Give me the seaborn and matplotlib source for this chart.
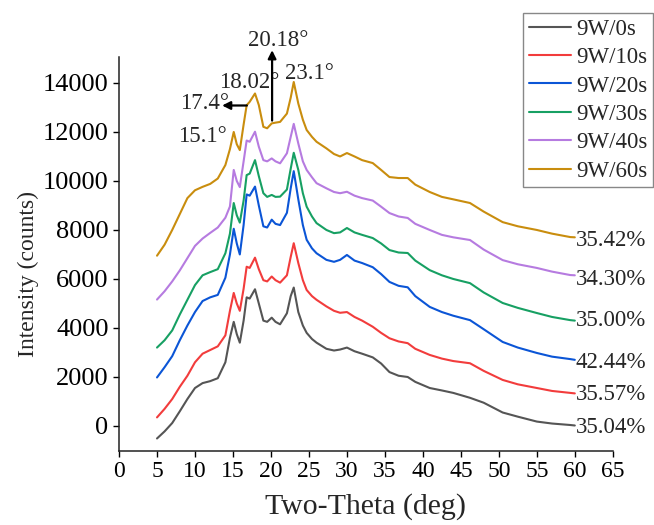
import pandas as pd
import matplotlib.pyplot as plt
import seaborn as sns

sns.set_style("ticks")
plt.rcParams["font.family"] = ["Liberation Serif", "DejaVu Serif"]

# XRD patterns (two-theta in deg, intensity in counts)
two_theta = [5, 6, 7, 8, 9, 10, 11, 12, 13, 14, 14.6, 15.1, 15.5, 15.9, 16.4, 16.8,
             17.2, 17.9, 18.4, 19.0, 19.5, 20.1, 20.6, 21.2, 22.1, 22.6, 23.0, 23.6,
             24.2, 24.7, 25.4, 26.0, 27.3, 28.3, 29.1, 30.0, 31.0, 32.0, 33.4, 34.5,
             35.6, 36.8, 38.0, 39.0, 40.9, 42.5, 44.0, 46.2, 48.0, 50.5, 52.5, 55.0,
             57.0, 59.4, 60.0]

w9_0s = [-510, -220, 120, 600, 1100, 1550, 1750, 1830, 1950, 2600, 3600, 4250, 3750, 3400,
         4300, 5250, 5200, 5580, 5000, 4300, 4250, 4420, 4250, 4150, 4600, 5300, 5650, 4650,
         4100, 3800, 3550, 3400, 3150, 3080, 3120, 3200, 3050, 2950, 2800, 2550, 2200, 2050,
         2000, 1800, 1550, 1450, 1350, 1150, 950, 550, 380, 180, 100, 40, 20]
w9_10s = [350, 700, 1100, 1600, 2050, 2600, 2950, 3100, 3250, 3700, 4700, 5430, 5000, 4700,
          5600, 6500, 6450, 6870, 6400, 5950, 5900, 6100, 5950, 5850, 6150, 6900, 7460, 6650,
          5950, 5550, 5300, 5150, 4880, 4700, 4620, 4650, 4450, 4300, 4050, 3800, 3580, 3450,
          3380, 3150, 2900, 2750, 2650, 2560, 2250, 1880, 1700, 1550, 1430, 1350, 1330]
w9_20s = [1980, 2400, 2850, 3500, 4100, 4650, 5100, 5250, 5350, 6050, 7000, 8050, 7450, 7000,
          8200, 9450, 9400, 9770, 9000, 8150, 8100, 8420, 8250, 8200, 8700, 9700, 10400, 9250,
          8200, 7600, 7250, 7050, 6780, 6700, 6780, 6980, 6750, 6650, 6480, 6200, 5880, 5720,
          5660, 5300, 4860, 4650, 4500, 4320, 3950, 3430, 3200, 2980, 2830, 2730, 2700]
w9_30s = [3200, 3500, 3900, 4550, 5150, 5750, 6150, 6280, 6400, 7050, 7850, 9100, 8600, 8300,
          9200, 10240, 10300, 10850, 10200, 9500, 9350, 9430, 9350, 9360, 9650, 10500, 11150,
          10450, 9500, 8950, 8550, 8280, 8000, 7870, 7900, 8080, 7900, 7800, 7670, 7450, 7180,
          7080, 7060, 6750, 6360, 6150, 6000, 5830, 5450, 5020, 4820, 4610, 4450, 4320, 4300]
w9_40s = [5160, 5500, 5900, 6350, 6850, 7350, 7650, 7880, 8100, 8500, 8960, 10450, 10000, 9750,
          10800, 11650, 11600, 12010, 11400, 10850, 10800, 10920, 10800, 10720, 11130, 11800,
          12330, 11530, 10800, 10450, 10150, 9910, 9700, 9550, 9500, 9560, 9400, 9300, 9200,
          8950, 8690, 8550, 8490, 8250, 8000, 7800, 7700, 7590, 7200, 6770, 6600, 6450, 6300,
          6160, 6150]
w9_60s = [6950, 7400, 8000, 8650, 9300, 9620, 9760, 9880, 10100, 10650, 11300, 12000, 11500,
          11260, 12300, 13090, 13230, 13570, 13100, 12210, 12150, 12350, 12380, 12410, 12750,
          13400, 14040, 13160, 12500, 12080, 11800, 11600, 11330, 11100, 11000, 11140, 11000,
          10850, 10730, 10450, 10160, 10120, 10120, 9850, 9550, 9350, 9250, 9100, 8750, 8320,
          8150, 8000, 7850, 7710, 7700]

samples = ["9W/0s", "9W/10s", "9W/20s", "9W/30s", "9W/40s", "9W/60s"]
series = [w9_0s, w9_10s, w9_20s, w9_30s, w9_40s, w9_60s]
colors = ["#555555", "#f23c3c", "#0b55d6", "#17a063", "#b67be0", "#c98d0e"]

crystallinity = ["35.04%", "35.57%", "42.44%", "35.00%", "34.30%", "35.42%"]
label_y = [-80, 1270, 2600, 4320, 5980, 7590]

rows = []
for name, vals in zip(samples, series):
    for t, v in zip(two_theta, vals):
        rows.append({"two_theta": t, "intensity": v, "sample": name})
df = pd.DataFrame(rows)

fig = plt.figure(figsize=(6.54, 5.25), dpi=100)
ax = fig.add_axes([0.182, 0.141, 0.755, 0.750])

sns.lineplot(data=df, x="two_theta", y="intensity", hue="sample", hue_order=samples,
             palette=colors, estimator=None, sort=False, linewidth=1.5, ax=ax)

ax.set_xlim(0, 65)
ax.set_ylim(-1020, 15050)
ax.set_xticks(range(0, 66, 5))
ax.set_yticks(range(0, 14001, 2000))
ax.tick_params(direction="out", length=4, width=1, labelsize=17, colors="black")
ax.tick_params(axis="y", labelsize=19)
for side in ["top", "right"]:
    ax.spines[side].set_visible(False)
for side in ["left", "bottom"]:
    ax.spines[side].set_linewidth(1.1)
    ax.spines[side].set_color("#222222")

ax.set_xlabel("Two-Theta (deg)", fontsize=21.5, labelpad=8)
ax.set_ylabel("Intensity (counts)", fontsize=17, labelpad=3)
ax.yaxis.label.set_y(0.45)

for txt, yv in zip(crystallinity, label_y):
    ax.text(60.1, yv, txt, fontsize=16.5, ha="left", va="center", clip_on=False)

# peak annotations
fs = 16.5
ax.text(11.0, 11800, "15.1°", fontsize=fs, ha="center", va="center")
ax.text(11.2, 13170, "17.4°", fontsize=fs, ha="center", va="center")
ax.annotate("", xy=(13.2, 13080), xytext=(17.2, 13080),
            arrowprops=dict(arrowstyle="-|>", color="black", lw=1.6, mutation_scale=12))
ax.text(17.1, 14020, "18.02°", fontsize=fs, ha="center", va="center")
ax.annotate("", xy=(20.15, 15450), xytext=(20.15, 12350), annotation_clip=False,
            arrowprops=dict(arrowstyle="-|>", color="black", lw=1.6, mutation_scale=12))
ax.text(21.0, 15730, "20.18°", fontsize=fs, ha="center", va="center", clip_on=False)
ax.text(25.1, 14380, "23.1°", fontsize=fs, ha="center", va="center")

leg = ax.legend(loc="upper right", bbox_to_anchor=(653 / 654, 1 - 13 / 525),
                bbox_transform=fig.transFigure, borderaxespad=0, fontsize=16.5,
                frameon=True, fancybox=False, edgecolor="#888888", framealpha=1,
                handlelength=1.85, handletextpad=0.2, labelspacing=0.32, borderpad=0.25)
for line in leg.get_lines():
    line.set_linewidth(1.5)

fig.savefig("out.png", dpi=100)
